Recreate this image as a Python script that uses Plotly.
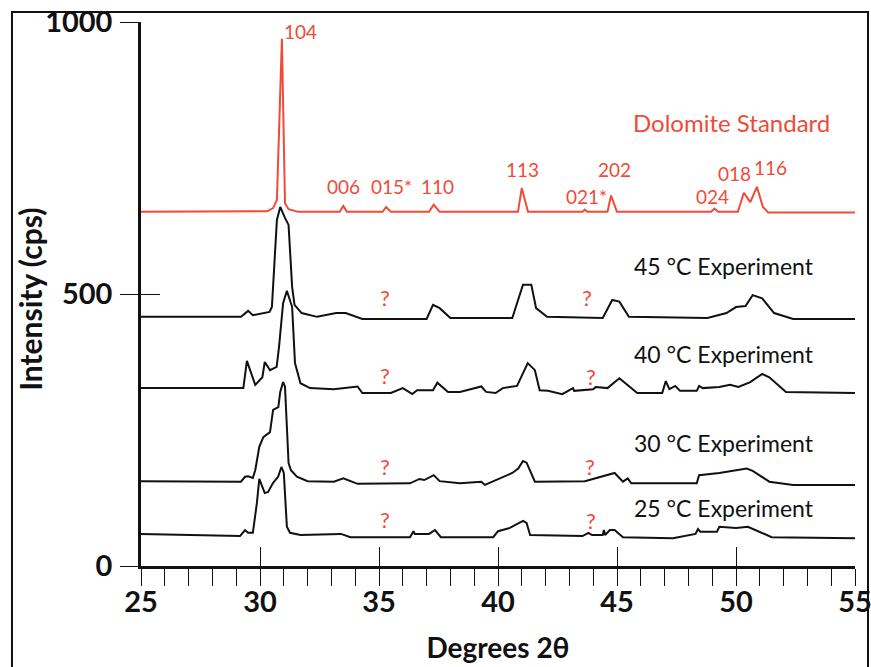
import plotly.graph_objects as go

# ---------------- data ----------------
dolomite_x = [25, 30.3, 30.55, 30.71, 30.92, 31.05, 31.2, 31.6, 33.35, 33.5, 33.65, 35.15, 35.3, 35.5,
              37.1, 37.3, 37.55, 40.84, 41.0, 41.26, 43.55, 43.65, 43.75, 44.6, 44.75, 45.0,
              48.95, 49.1, 49.25, 50.08, 50.33, 50.6, 50.88, 51.13, 51.35, 55]
dolomite_y = [651, 652, 658, 673, 969, 667, 656, 651, 651, 662, 651, 651, 660, 651,
              651, 664, 651, 651, 695, 651, 651, 655, 651, 651, 681, 651,
              651, 657, 651, 651, 686, 669, 697, 660, 650, 650]

exp45_x = [25, 29.2, 29.5, 29.7, 30.4, 30.5, 30.71, 30.85, 31.05, 31.2, 31.35, 31.45, 31.75, 32.4,
           33.2, 33.6, 34.3, 37.0, 37.27, 37.55, 38.0, 40.6, 41.05, 41.4, 41.6, 42.06, 44.4, 44.8,
           45.1, 45.5, 48.8, 49.6, 50.0, 50.4, 50.7, 51.1, 51.6, 52.4, 55]
exp45_y = [458, 458, 469, 461, 467, 476, 636, 660, 640, 627, 513, 480, 465, 458,
           465, 465, 454, 454, 480, 474, 456, 456, 517, 517, 474, 458, 456, 489,
           486, 458, 456, 465, 476, 478, 498, 492, 465, 454, 454]

exp40_x = [25, 29.3, 29.45, 29.8, 30.1, 30.2, 30.42, 30.7, 30.8, 30.97, 31.13, 31.35, 31.47, 31.7,
           32.1, 33.1, 34.1, 34.3, 35.5, 36.0, 36.4, 36.6, 37.27, 37.45, 37.9, 38.4, 39.3, 39.5,
           39.9, 40.2, 40.8, 41.25, 41.55, 41.75, 42.1, 42.7, 43.15, 43.2, 44.0, 44.1, 44.6, 45.1,
           45.85, 46.9, 47.05, 47.2, 47.45, 47.65, 48.35, 48.45, 48.6, 49.3, 49.75, 50.1, 50.6,
           51.1, 51.4, 52.1, 55]
exp40_y = [327, 327, 377, 333, 347, 375, 360, 366, 403, 483, 506, 476, 373, 336,
           327, 325, 330, 318, 318, 327, 316, 323, 323, 337, 320, 320, 330, 320,
           318, 327, 331, 373, 360, 323, 322, 316, 327, 322, 325, 329, 327, 345,
           318, 318, 340, 325, 331, 322, 322, 331, 327, 329, 333, 329, 338,
           353, 347, 320, 318]

exp30_x = [25, 29.2, 29.37, 29.5, 29.7, 29.8, 29.97, 30.14, 30.42, 30.55, 30.77, 30.85, 30.97,
           31.05, 31.2, 31.3, 31.55, 32.0, 33.1, 33.5, 34.1, 36.3, 36.7, 36.9, 37.3, 37.55, 38.4,
           39.3, 39.45, 40.2, 40.6, 40.85, 41.05, 41.2, 41.55, 43.65, 44.3, 44.6, 44.9, 45.25,
           45.45, 45.6, 48.35, 48.45, 49.3, 50.45, 50.7, 51.4, 52.4, 55]
exp30_y = [156, 155, 164, 165, 162, 176, 219, 237, 246, 287, 292, 320, 338,
           330, 189, 176, 164, 156, 155, 161, 151, 152, 160, 158, 167, 156, 152,
           155, 149, 164, 171, 179, 193, 190, 155, 156, 164, 167, 171, 155,
           161, 152, 152, 167, 171, 179, 175, 155, 149, 149]

exp25_x = [25, 29.16, 29.37, 29.5, 29.7, 29.87, 29.97, 30.08, 30.2, 30.34, 30.55, 30.76, 30.9,
           31.0, 31.13, 31.26, 31.7, 33.4, 33.8, 36.3, 36.45, 36.5, 37.1, 37.35, 37.6, 39.8,
           40.0, 40.5, 41.05, 41.2, 41.35, 43.55, 43.8, 43.95, 44.4, 44.45, 44.5, 44.7, 44.9,
           45.25, 47.35, 48.3, 48.4, 48.5, 49.2, 49.3, 50.0, 50.5, 51.5, 55]
exp25_y = [59, 55, 66, 61, 61, 116, 160, 149, 134, 136, 153, 164, 182,
           171, 72, 61, 57, 59, 53, 53, 64, 59, 59, 66, 53, 53,
           64, 70, 83, 79, 57, 55, 61, 57, 57, 66, 57, 66, 66,
           53, 51, 59, 68, 63, 63, 72, 70, 72, 53, 51]

x_tick_vals = list(range(25, 56))
x_tick_text = ["25", "", "", "", "", "30", "", "", "", "", "35", "", "", "", "", "40",
               "", "", "", "", "45", "", "", "", "", "50", "", "", "", "", "55"]
x_major_vals = [30, 35, 40, 45, 50, 55]
y_tick_vals = [0, 500, 1000]
y_tick_text = ["0", "500", "1000"]

x_title = "Degrees 2θ"
y_title = "Intensity (cps)"
peak_labels = ["104", "006", "015*", "110", "113", "021*", "202", "024", "018", "116"]
series_labels = ["Dolomite Standard", "45 °C Experiment", "40 °C Experiment",
                 "30 °C Experiment", "25 °C Experiment"]
unknown_label = "?"

# ---------------- style ----------------
RED = "#F04A38"
BLACK = "#111111"
FONT = "Lato"

fig = go.Figure()
series = [(exp45_x, exp45_y), (exp40_x, exp40_y), (exp30_x, exp30_y), (exp25_x, exp25_y)]
for sx, sy in series:
    fig.add_trace(go.Scatter(x=sx, y=sy, mode="lines", line=dict(color=BLACK, width=2),
                             showlegend=False, hoverinfo="skip"))
# dolomite drawn on the overlay axes (same ranges) so that the crossing ticks render
fig.add_trace(go.Scatter(x=dolomite_x, y=dolomite_y, mode="lines", line=dict(color=RED, width=2),
                         xaxis="x2", yaxis="y2", showlegend=False, hoverinfo="skip"))

# peak label positions (degrees, cps)
peak_pos = [(31.72, 982), (33.49, 697), (35.53, 697), (37.44, 697), (41.03, 728),
            (43.7, 680), (44.9, 728), (49.0, 680), (49.94, 721), (51.47, 732)]
for t, (px, py) in zip(peak_labels, peak_pos):
    fig.add_annotation(x=px, y=py, text=t, showarrow=False, xanchor="center", yanchor="middle",
                       font=dict(family=FONT, size=19, color=RED))

series_pos = [(49.81, 815), (49.5, 551), (49.5, 390), (49.5, 226), (49.5, 107)]
for i, (t, (px, py)) in enumerate(zip(series_labels, series_pos)):
    fig.add_annotation(x=px, y=py, text=t, showarrow=False, xanchor="center", yanchor="middle",
                       font=dict(family=FONT, size=24 if i == 0 else 23,
                                 color=RED if i == 0 else BLACK))

q_pos = [(35.25, 494), (35.25, 351), (35.25, 182), (35.25, 86),
         (43.74, 494), (43.9, 349), (43.87, 182), (43.9, 83)]
for px, py in q_pos:
    fig.add_annotation(x=px, y=py, text=unknown_label, showarrow=False, xanchor="center",
                       yanchor="middle", font=dict(family=FONT, size=22, color=RED))

# y-axis title
fig.add_annotation(xref="paper", yref="paper", x=-0.1555, y=0.491, text=y_title,
                   textangle=-90, showarrow=False, xanchor="center", yanchor="middle",
                   font=dict(family=FONT, size=30, color=BLACK, weight="bold"))

tickfont = dict(family=FONT, size=29, color=BLACK, weight="bold")
fig.update_layout(
    width=871, height=667,
    margin=dict(l=141, r=16, t=22, b=101, autoexpand=False),
    paper_bgcolor="white", plot_bgcolor="white",
    showlegend=False,
    xaxis=dict(range=[25, 55], showgrid=False, zeroline=False, showline=True,
               linecolor=BLACK, linewidth=2.5, ticks="outside", ticklen=17, tickwidth=1.3,
               tickcolor=BLACK, tickmode="array", tickvals=x_tick_vals, ticktext=x_tick_text,
               tickfont=tickfont, ticklabelstandoff=-9, ticklabeloverflow="allow",
               fixedrange=True,
               title=dict(text=x_title, standoff=22,
                          font=dict(family=FONT, size=28, color=BLACK, weight="bold"))),
    yaxis=dict(range=[0, 1000], showgrid=False, zeroline=False, showline=True,
               linecolor=BLACK, linewidth=2.5, ticks="outside", ticklen=18, tickwidth=1.3,
               tickcolor=BLACK, tickmode="array", tickvals=y_tick_vals, ticktext=y_tick_text,
               tickfont=tickfont, ticklabelstandoff=2, fixedrange=True),
    xaxis2=dict(overlaying="x", matches="x", anchor="y2", showgrid=False, zeroline=False,
                showline=False, ticks="inside", ticklen=19, tickwidth=1.3, tickcolor=BLACK,
                tickmode="array", tickvals=x_major_vals, showticklabels=False, fixedrange=True),
    yaxis2=dict(overlaying="y", matches="y", anchor="x2", showgrid=False, zeroline=False,
                showline=False, ticks="inside", ticklen=19, tickwidth=1.3, tickcolor=BLACK,
                tickmode="array", tickvals=[500, 1000], showticklabels=False, fixedrange=True),
    shapes=[dict(type="rect", xref="paper", yref="paper", x0=-0.1807, x1=1.0182,
                 y0=-0.21, y1=1.0184, line=dict(color=BLACK, width=2), layer="below")],
)

fig.write_html("out.html", config={"displayModeBar": False},
               post_script="document.body.style.margin='0';")
